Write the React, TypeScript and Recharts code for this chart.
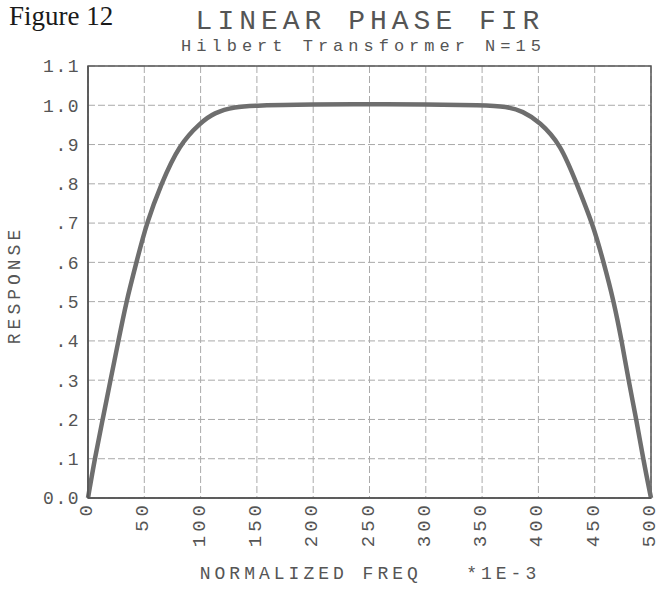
import React from "react";
import { LineChart, Line, XAxis, YAxis, CartesianGrid, ReferenceArea } from "recharts";

// normalized frequency (*1E-3) and magnitude response
const freq = [0, 6, 13, 20, 27, 34, 43, 52, 65, 81, 100, 112, 130, 150, 200, 250, 300, 350, 372, 386, 401, 420, 434, 448, 458, 467, 474, 480, 487, 493, 500];
const response = [0, 0.1, 0.2, 0.3, 0.4, 0.5, 0.6, 0.7, 0.8, 0.9, 0.956, 0.981, 0.996, 1.0, 1.002, 1.003, 1.002, 1.0, 0.997, 0.985, 0.958, 0.9, 0.8, 0.7, 0.6, 0.5, 0.4, 0.3, 0.2, 0.1, 0];

const xTicks = [0, 50, 100, 150, 200, 250, 300, 350, 400, 450, 500];
const yTicks = [0, 0.1, 0.2, 0.3, 0.4, 0.5, 0.6, 0.7, 0.8, 0.9, 1.0, 1.1];

const data = freq.map((f, i) => ({ f, r: response[i] }));

const MONO = "'Liberation Mono', 'DejaVu Sans Mono', monospace";
const INK = "#555";

const fmtY = (v: number) => {
	if (v === 0) return "0.0";
	if (v >= 1) return v.toFixed(1);
	return v.toFixed(1).slice(1);
};

const XTick = (props: any) => {
	const { x, y, payload } = props;
	return (
		<g transform={`translate(${x},${y})`}>
			<text
				transform="rotate(-90)"
				x={5}
				dy={4}
				textAnchor="end"
				fontFamily={MONO}
				fontSize={19}
				letterSpacing={4}
				fill={INK}
			>
				{payload.value}
			</text>
		</g>
	);
};

export default function App() {
	return (
		<div style={{ position: "absolute", left: 0, top: 0, width: 658, height: 589, background: "#fff" }}>
			<div style={{ position: "absolute", left: 9, top: 1, fontFamily: "'Liberation Serif', serif", fontSize: 27, color: "#1a1a1a" }}>
				Figure 12
			</div>
			<div style={{ position: "absolute", left: 0, width: 740, top: 6, textAlign: "center", fontFamily: MONO, fontSize: 28, letterSpacing: 5, color: INK }}>
				LINEAR PHASE FIR
			</div>
			<div style={{ position: "absolute", left: 0, width: 727, top: 37, textAlign: "center", fontFamily: MONO, fontSize: 17, letterSpacing: 5, color: INK }}>
				Hilbert Transformer N=15
			</div>
			<div
				style={{
					position: "absolute", left: 15, top: 285, transform: "translate(-50%,-50%) rotate(-90deg)",
					fontFamily: MONO, fontSize: 18, letterSpacing: 4, color: INK, whiteSpace: "nowrap",
				}}
			>
				RESPONSE
			</div>
			<div style={{ position: "absolute", left: 0, width: 740, top: 564, textAlign: "center", fontFamily: MONO, fontSize: 18, letterSpacing: 4, color: INK, whiteSpace: "pre" }}>
				{"NORMALIZED FREQ   *1E-3"}
			</div>
			<LineChart width={658} height={589} data={data} margin={{ top: 66, right: 7, left: 8, bottom: 11 }}>
				<CartesianGrid stroke="#aaa" strokeDasharray="7 3" strokeWidth={1} />
				<XAxis
					dataKey="f"
					type="number"
					domain={[0, 500]}
					ticks={xTicks}
					interval={0}
					height={80}
					tick={<XTick />}
					tickLine={false}
					axisLine={{ stroke: INK, strokeWidth: 1.5 }}
				/>
				<YAxis
					type="number"
					domain={[0, 1.1]}
					ticks={yTicks}
					interval={0}
					width={80}
					tickFormatter={fmtY}
					tickLine={false}
					tickSize={0}
					tickMargin={8}
					axisLine={{ stroke: INK, strokeWidth: 1.5 }}
					tick={{ fontFamily: MONO, fontSize: 18, fill: INK, letterSpacing: 1.5 }}
				/>
				<ReferenceArea x1={0} x2={500} y1={0} y2={1.1} fill="none" stroke={INK} strokeWidth={1.5} ifOverflow="extendDomain" />
				<Line type="basis" dataKey="r" stroke="#6e6e6e" strokeWidth={4.5} dot={false} isAnimationActive={false} />
			</LineChart>
		</div>
	);
}
